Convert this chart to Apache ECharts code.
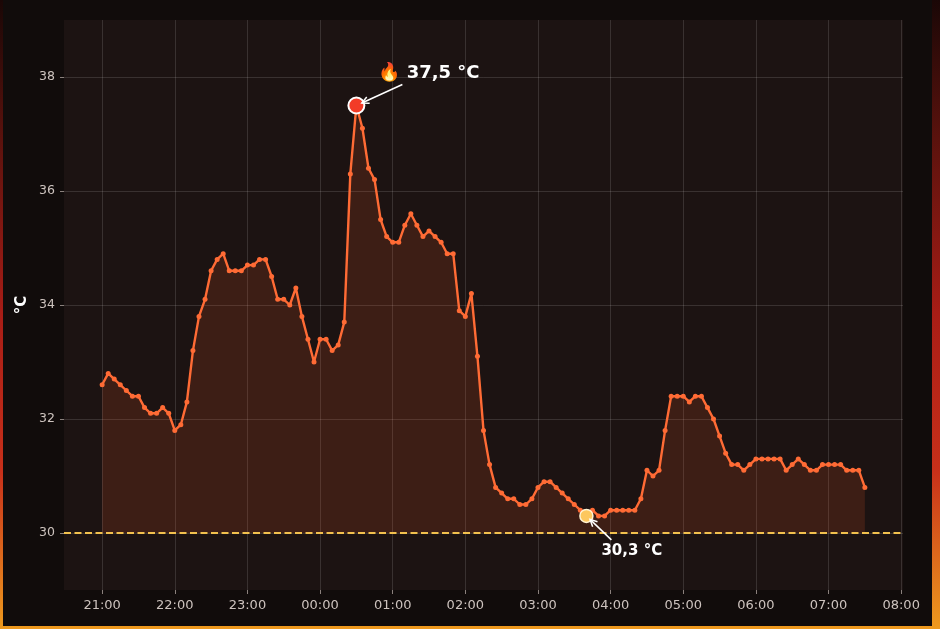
<!DOCTYPE html>
<html><head><meta charset="utf-8">
<script src="https://cdn.jsdelivr.net/npm/echarts@6/dist/echarts.min.js"></script>
<style>
html,body{margin:0;padding:0;width:940px;height:629px;overflow:hidden;}
body{background:linear-gradient(to bottom,#1a0706 0%,#5a120d 22%,#a81d16 50%,#c8301a 75%,#ee9a1e 100%);position:relative;}
#chart{position:absolute;left:3px;top:0;width:929px;height:626px;}
</style></head><body><div id="chart"></div>
<script>
const times = [
 "21:00","21:05","21:10","21:15","21:20","21:25","21:30","21:35","21:40","21:45","21:50","21:55",
 "22:00","22:05","22:10","22:15","22:20","22:25","22:30","22:35","22:40","22:45","22:50","22:55",
 "23:00","23:05","23:10","23:15","23:20","23:25","23:30","23:35","23:40","23:45","23:50","23:55",
 "00:00","00:05","00:10","00:15","00:20","00:25","00:30","00:35","00:40","00:45","00:50","00:55",
 "01:00","01:05","01:10","01:15","01:20","01:25","01:30","01:35","01:40","01:45","01:50","01:55",
 "02:00","02:05","02:10","02:15","02:20","02:25","02:30","02:35","02:40","02:45","02:50","02:55",
 "03:00","03:05","03:10","03:15","03:20","03:25","03:30","03:35","03:40","03:45","03:50","03:55",
 "04:00","04:05","04:10","04:15","04:20","04:25","04:30","04:35","04:40","04:45","04:50","04:55",
 "05:00","05:05","05:10","05:15","05:20","05:25","05:30","05:35","05:40","05:45","05:50","05:55",
 "06:00","06:05","06:10","06:15","06:20","06:25","06:30","06:35","06:40","06:45","06:50","06:55",
 "07:00","07:05","07:10","07:15","07:20","07:25","07:30"
];
const temps = [
 32.6,32.8,32.7,32.6,32.5,32.4,32.4,32.2,32.1,32.1,32.2,32.1,
 31.8,31.9,32.3,33.2,33.8,34.1,34.6,34.8,34.9,34.6,34.6,34.6,
 34.7,34.7,34.8,34.8,34.5,34.1,34.1,34.0,34.3,33.8,33.4,33.0,
 33.4,33.4,33.2,33.3,33.7,36.3,37.5,37.1,36.4,36.2,35.5,35.2,
 35.1,35.1,35.4,35.6,35.4,35.2,35.3,35.2,35.1,34.9,34.9,33.9,
 33.8,34.2,33.1,31.8,31.2,30.8,30.7,30.6,30.6,30.5,30.5,30.6,
 30.8,30.9,30.9,30.8,30.7,30.6,30.5,30.4,30.3,30.4,30.3,30.3,
 30.4,30.4,30.4,30.4,30.4,30.6,31.1,31.0,31.1,31.8,32.4,32.4,
 32.4,32.3,32.4,32.4,32.2,32.0,31.7,31.4,31.2,31.2,31.1,31.2,
 31.3,31.3,31.3,31.3,31.3,31.1,31.2,31.3,31.2,31.1,31.1,31.2,
 31.2,31.2,31.2,31.1,31.1,31.1,30.8
];
const xTickLabels = ["21:00","22:00","23:00","00:00","01:00","02:00","03:00","04:00","05:00","06:00","07:00","08:00"];
const yTickValues = [30,32,34,36,38];
const yRange = [29,39];
const xRangeLabels = ["20:28.5","08:01.5"];
const threshold = 30;
const unit = "°C";

function toMin(t){
  const p = t.split(':');
  const h = Number(p[0]), m = Number(p[1]);
  return (h < 12 ? h + 24 : h) * 60 + m - 20 * 60;
}
function fmtMin(v){
  let tot = Math.round(v) + 20*60;
  let h = Math.floor(tot/60) % 24, m = tot % 60;
  return String(h).padStart(2,'0') + ':' + String(m).padStart(2,'0');
}
function fmtTemp(v){ return v.toFixed(1).replace('.', ',') + ' ' + unit; }

const lineData = times.map((t,i)=>[toMin(t), temps[i]]);
let iMax = 0, iMin = 0;
temps.forEach((v,i)=>{ if(v>temps[iMax]) iMax=i; if(v<temps[iMin]) iMin=i; });

const FONT = "DejaVu Sans";
const chart = echarts.init(document.getElementById('chart'), null, {renderer:'canvas'});
const option = {
  animation:false,
  backgroundColor:'#110c0b',
  grid:{left:61,right:29,top:20,bottom:36,show:true,backgroundColor:'#1c1312',borderWidth:0},
  xAxis:{
    type:'value', min:toMin(xRangeLabels[0]), max:toMin(xRangeLabels[1]),
    axisLine:{show:false},
    axisTick:{show:true,length:4,lineStyle:{color:'#8a807c',width:1},customValues:xTickLabels.map(toMin)},
    axisLabel:{color:'#cdc3be',fontFamily:FONT,fontSize:13,margin:9,customValues:xTickLabels.map(toMin),formatter:(v)=>fmtMin(v)},
    splitLine:{show:true,lineStyle:{color:'rgba(255,255,255,0.13)',width:1}}
  },
  yAxis:{
    type:'value', min:yRange[0], max:yRange[1],
    name:unit, nameLocation:'middle', nameGap:34, nameMoveOverlap:false,
    nameTextStyle:{color:'#ffffff',fontFamily:FONT,fontWeight:'bold',fontSize:15},
    axisLine:{show:false},
    axisTick:{show:true,length:4,lineStyle:{color:'#8a807c',width:1},customValues:yTickValues},
    axisLabel:{color:'#cdc3be',fontFamily:FONT,fontSize:12.5,margin:9,customValues:yTickValues},
    splitLine:{show:true,lineStyle:{color:'rgba(255,255,255,0.13)',width:1}}
  },
  series:[
    {
      type:'line', data:lineData, symbol:'circle', symbolSize:5, showSymbol:true,
      itemStyle:{color:'#ff6b35',opacity:1}, lineStyle:{color:'#ff6b35',width:2.4},
      areaStyle:{color:'rgba(255,95,40,0.21)',origin:threshold},
      z:3,
      markLine:{silent:true,symbol:['none','none'],label:{show:false},
        lineStyle:{color:'#f2c14e',type:[7,3.5],width:1.8},
        data:[{yAxis:threshold}]}
    },
    {
      type:'scatter', data:[[toMin(times[iMax]),temps[iMax]]], symbolSize:16, z:5,
      itemStyle:{color:'#f23b27',borderColor:'#ffffff',borderWidth:2,opacity:1}
    },
    {
      type:'scatter', data:[[toMin(times[iMin]),temps[iMin]]], symbolSize:13, z:5,
      itemStyle:{color:'#fdc75e',borderColor:'#fff3d2',borderWidth:1.5,opacity:1}
    }
  ]
};
chart.setOption(option);

function arrow(from, to, shrink){
  const dx = to[0]-from[0], dy = to[1]-from[1];
  const L = Math.hypot(dx,dy), ux = dx/L, uy = dy/L;
  const end = [to[0]-ux*shrink, to[1]-uy*shrink];
  const hl = 7, hw = 3.5;
  const b = [end[0]-ux*hl, end[1]-uy*hl];
  const p1 = [b[0]-uy*hw, b[1]+ux*hw], p2 = [b[0]+uy*hw, b[1]-ux*hw];
  return [
    {type:'line',shape:{x1:from[0],y1:from[1],x2:end[0],y2:end[1]},style:{stroke:'#ffffff',lineWidth:1.5},z:10},
    {type:'polyline',shape:{points:[p1,end,p2]},style:{stroke:'#ffffff',lineWidth:1.5,fill:null},z:10}
  ];
}
const pMax = chart.convertToPixel({gridIndex:0},[toMin(times[iMax]),temps[iMax]]);
const pMin = chart.convertToPixel({gridIndex:0},[toMin(times[iMin]),temps[iMin]]);
const graphics = [];
graphics.push({type:'text',x:pMax[0]+22,y:pMax[1]-32,z:10,
  style:{text:'🔥 '+fmtTemp(temps[iMax]),fill:'#ffffff',font:'bold 18px "DejaVu Sans"',textVerticalAlign:'middle',textAlign:'left'}});
graphics.push(...arrow([pMax[0]+46,pMax[1]-21],pMax,6));
graphics.push({type:'text',x:pMin[0]+15,y:pMin[1]+35,z:10,
  style:{text:fmtTemp(temps[iMin]),fill:'#ffffff',font:'bold 15px "DejaVu Sans"',textVerticalAlign:'middle',textAlign:'left'}});
graphics.push(...arrow([pMin[0]+25,pMin[1]+24],pMin,5));
chart.setOption({graphic:graphics});
</script>
</body></html>
